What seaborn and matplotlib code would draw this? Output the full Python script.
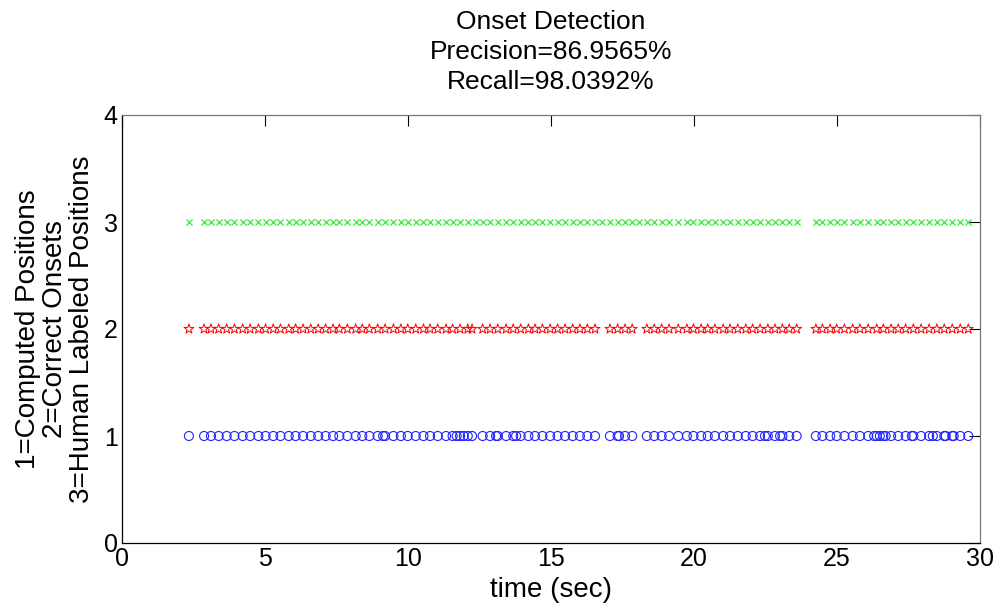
import matplotlib
matplotlib.use("Agg")
import matplotlib.pyplot as plt
import seaborn as sns
import pandas as pd

# Human labeled onset positions (sec)
human = [2.34, 2.87, 3.11, 3.38, 3.66, 3.93, 4.22, 4.48, 4.77, 5.02,
         5.29, 5.54, 5.83, 6.07, 6.33, 6.60, 6.86, 7.12, 7.38, 7.60,
         7.88, 8.17, 8.40, 8.65, 8.94, 9.20, 9.49, 9.75, 9.99, 10.27,
         10.54, 10.77, 11.04, 11.33, 11.56, 11.82, 12.09, 12.38, 12.61, 12.87,
         13.14, 13.43, 13.68, 13.94, 14.21, 14.44, 14.70, 14.97, 15.23, 15.49,
         15.76, 16.01, 16.27, 16.54, 16.79, 17.06, 17.33, 17.59, 17.84, 18.09,
         18.35, 18.61, 18.87, 19.13, 19.45, 19.75, 19.98, 20.25, 20.48, 20.73,
         21.02, 21.26, 21.53, 21.81, 22.05, 22.31, 22.58, 22.83, 23.09, 23.33,
         23.59, 24.26, 24.49, 24.76, 24.99, 25.26, 25.55, 25.80, 26.09, 26.39,
         26.62, 26.89, 27.14, 27.40, 27.67, 27.94, 28.22, 28.49, 28.75, 29.03,
         29.31, 29.59]

# Correct onsets (sec)
correct = [2.34, 2.87, 3.11, 3.38, 3.66, 3.93, 4.22, 4.48, 4.77, 5.02,
           5.29, 5.54, 5.83, 6.07, 6.33, 6.60, 6.86, 7.12, 7.38, 7.60,
           7.88, 8.17, 8.40, 8.65, 8.94, 9.20, 9.49, 9.75, 9.99, 10.27,
           10.54, 10.77, 11.04, 11.33, 11.56, 11.82, 12.09, 12.24, 12.61, 12.87,
           13.14, 13.43, 13.68, 13.94, 14.21, 14.44, 14.70, 14.97, 15.23, 15.49,
           15.76, 16.01, 16.27, 16.54, 17.06, 17.33, 17.59, 17.84,
           18.35, 18.61, 18.87, 19.13, 19.45, 19.75, 19.98, 20.25, 20.48, 20.73,
           21.02, 21.26, 21.53, 21.81, 22.05, 22.31, 22.58, 22.83, 23.09, 23.33,
           23.59, 24.26, 24.49, 24.76, 24.99, 25.26, 25.55, 25.80, 26.09, 26.39,
           26.62, 26.89, 27.14, 27.40, 27.67, 27.94, 28.22, 28.49, 28.75, 29.03,
           29.31, 29.59]

# Extra computed onsets (false positives, sec)
extra = [9.13, 11.70, 11.95, 13.08, 13.78, 17.38, 22.48, 23.01,
         26.30, 26.50, 26.70, 27.62, 28.35, 28.80, 29.08]

computed = sorted(correct + extra)

title_lines = ["Onset Detection", "Precision=86.9565%", "Recall=98.0392%"]
ylabel_lines = ["1=Computed Positions", "2=Correct Onsets", "3=Human Labeled Positions"]
x_label = "time (sec)"
x_ticks = [0, 5, 10, 15, 20, 25, 30]
y_ticks = [0, 1, 2, 3, 4]

df_c = pd.DataFrame({"time": computed, "row": [1] * len(computed)})
df_k = pd.DataFrame({"time": correct, "row": [2] * len(correct)})
df_h = pd.DataFrame({"time": human, "row": [3] * len(human)})

sns.set_theme(style="white")
plt.rcParams["font.family"] = ["Liberation Sans", "DejaVu Sans"]
plt.rcParams["text.color"] = "black"
plt.rcParams["axes.labelcolor"] = "black"

fig = plt.figure(figsize=(9.99, 6.04), dpi=100)
ax = fig.add_axes([122 / 999, 61 / 604, 858 / 999, 428 / 604])

sns.scatterplot(data=df_c, x="time", y="row", ax=ax, marker="o", s=42,
                facecolor="none", edgecolor="#2222ff", linewidth=0.8)
sns.scatterplot(data=df_k, x="time", y="row", ax=ax, marker="*", s=55,
                facecolor="none", edgecolor="#ff0000", linewidth=0.7)
sns.scatterplot(data=df_h, x="time", y="row", ax=ax, marker="x", s=20,
                color="#33ee33", linewidth=0.9)

ax.set_xlim(0, 30)
ax.set_ylim(0, 4)
ax.set_xticks(x_ticks)
ax.set_yticks(y_ticks)
ax.tick_params(direction="in", length=8, width=0.8, top=True, right=True,
               labelsize=18, pad=3, colors="black")
for sp in ax.spines.values():
    sp.set_color("black")
    sp.set_linewidth(0.9)
ax.spines["right"].set_color("#777777")
ax.spines["top"].set_color("#777777")

ax.set_title("\n".join(title_lines), fontsize=19, linespacing=1.3, pad=19,
             color="black")
ax.set_xlabel(x_label, fontsize=20, labelpad=4)
ax.set_ylabel("\n".join(ylabel_lines), fontsize=20, linespacing=1.05, labelpad=6)

fig.savefig("out.png", dpi=100)
